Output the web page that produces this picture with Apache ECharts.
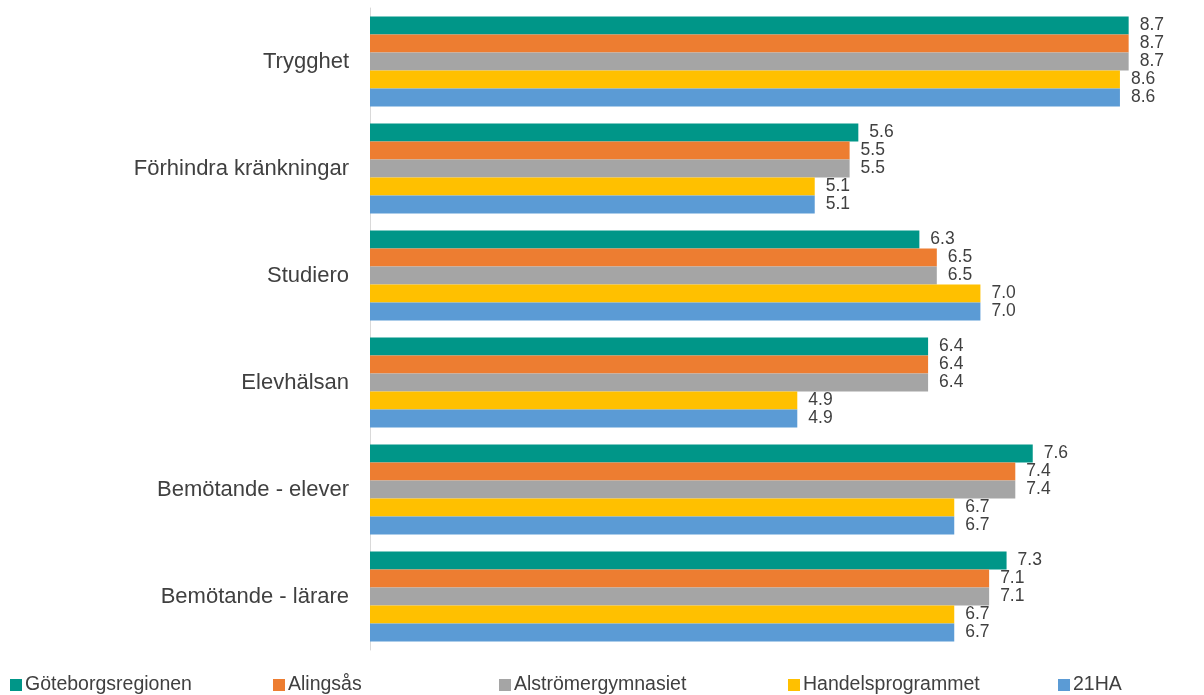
<!DOCTYPE html>
<html>
<head>
<meta charset="utf-8">
<script src="https://cdn.jsdelivr.net/npm/echarts@6/dist/echarts.min.js"></script>
<style>html,body{margin:0;padding:0;background:#fff}#c{width:1204px;height:695px}</style>
</head>
<body>
<div id="c"></div>
<script>
const categories = ['Trygghet', 'Förhindra kränkningar', 'Studiero', 'Elevhälsan', 'Bemötande - elever', 'Bemötande - lärare'];
const seriesNames = ['Göteborgsregionen', 'Alingsås', 'Alströmergymnasiet', 'Handelsprogrammet', '21HA'];
const goteborgsregionen = [8.7, 5.6, 6.3, 6.4, 7.6, 7.3];
const alingsas = [8.7, 5.5, 6.5, 6.4, 7.4, 7.1];
const alstromergymnasiet = [8.7, 5.5, 6.5, 6.4, 7.4, 7.1];
const handelsprogrammet = [8.6, 5.1, 7.0, 4.9, 6.7, 6.7];
const ha21 = [8.6, 5.1, 7.0, 4.9, 6.7, 6.7];
const seriesValues = [goteborgsregionen, alingsas, alstromergymnasiet, handelsprogrammet, ha21];
const colors = ['#009688', '#ED7D31', '#A5A5A5', '#FFC000', '#5B9BD5'];
const legendLefts = [10, 273, 499, 788, 1058];

const font = 'Liberation Sans, Arial, sans-serif';
const chart = echarts.init(document.getElementById('c'));
chart.setOption({
  animation: false,
  color: colors,
  grid: { left: 370, top: 8, right: 0, height: 642, containLabel: false },
  xAxis: { type: 'value', min: 0, max: 9.564, show: false },
  yAxis: {
    type: 'category', data: categories, inverse: true,
    axisLine: { show: true, lineStyle: { color: '#D9D9D9', width: 1 } },
    axisTick: { show: false },
    axisLabel: { color: '#404040', fontSize: 22, fontFamily: font, margin: 21 }
  },
  legend: seriesNames.map((n, i) => ({
    data: [n], left: legendLefts[i], top: 675, padding: 0, itemWidth: 12, itemHeight: 12,
    icon: 'rect', itemGap: 4,
    textStyle: { color: '#404040', fontSize: 19.5, fontFamily: font, padding: [0, 0, 0, -2] }
  })),
  series: seriesNames.map((n, i) => ({
    name: n, type: 'bar', data: seriesValues[i],
    barGap: '0%', barCategoryGap: '16%',
    itemStyle: { color: colors[i] },
    label: {
      show: true, position: 'right', distance: 11, color: '#404040',
      fontSize: 17.5, fontFamily: font, padding: [2, 0, 0, 0],
      formatter: p => p.value.toFixed(1)
    }
  }))
});
</script>
</body>
</html>
